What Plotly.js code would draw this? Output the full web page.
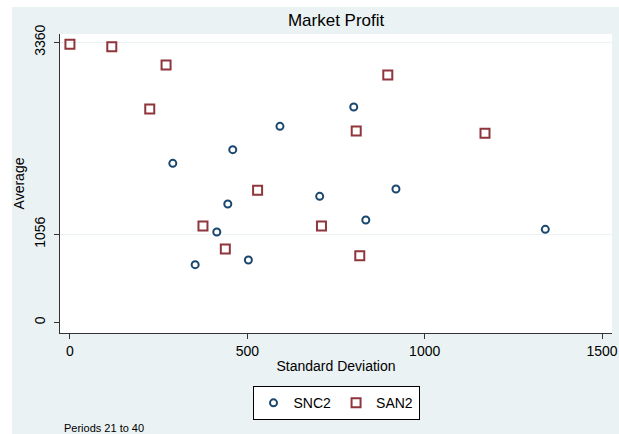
<!DOCTYPE html>
<html>
<head>
<meta charset="utf-8">
<script src="https://cdn.plot.ly/plotly-3.0.1.min.js"></script>
<style>html,body{margin:0;padding:0;background:#fff;}#chart{width:619px;height:434px;}</style>
</head>
<body>
<div id="chart"></div>
<script>
// SNC2 series (Standard Deviation, Average)
var snc2SD  = [800, 592, 459, 290, 704, 919, 445, 834, 414, 503, 353, 1340];
var snc2Avg = [2584, 2352, 2072, 1908, 1512, 1600, 1420, 1228, 1084, 748, 692, 1116];
// SAN2 series
var san2SD  = [0, 118, 271, 225, 896, 807, 1170, 529, 375, 709, 438, 817];
var san2Avg = [3336, 3307, 3088, 2560, 2968, 2296, 2268, 1584, 1156, 1156, 880, 799];

var xTicks = [0, 500, 1000, 1500];
var yTicks = [0, 1056, 3360];
var yGridTicks = [1056, 3360];

var font = "'Liberation Sans', Arial, sans-serif";
var bg = '#eaf2f3';

var traces = [
  {x: snc2SD, y: snc2Avg, name: 'SNC2', type: 'scatter', mode: 'markers',
   marker: {symbol: 'circle-open', size: 7, color: '#1a476f', line: {width: 2, color: '#1a476f'}}},
  {x: san2SD, y: san2Avg, name: 'SAN2', type: 'scatter', mode: 'markers',
   marker: {symbol: 'square-open', size: 9, color: '#90353b', line: {width: 2, color: '#90353b'}}}
];

var layout = {
  width: 619, height: 434,
  margin: {l: 60, r: 7, t: 34, b: 101},
  paper_bgcolor: bg,
  plot_bgcolor: '#ffffff',
  font: {family: font, color: '#000', size: 14},
  title: {text: 'Market Profit', font: {size: 17, family: font, color: '#000'},
          x: 0.543, xanchor: 'center', y: 0.954, yanchor: 'middle'},
  xaxis: {range: [-28, 1528], tickvals: xTicks, ticktext: xTicks.map(String),
          showgrid: false, zeroline: false, showline: true, linecolor: '#333', linewidth: 1,
          ticks: 'outside', ticklen: 5, tickcolor: '#333', tickfont: {size: 14},
          title: {text: 'Standard Deviation', font: {size: 14}, standoff: 3}},
  yaxis: {range: [-128, 3460], tickvals: yTicks, ticktext: yTicks.map(String),
          showgrid: false, zeroline: false, showline: true, linecolor: '#333', linewidth: 1,
          ticks: 'outside', ticklen: 5, tickcolor: '#333', tickangle: -90, tickfont: {size: 14},
          ticklabelstandoff: 3,
          title: {text: 'Average', font: {size: 14}, standoff: 4}},
  yaxis2: {range: [-128, 3460], overlaying: 'y', tickvals: yGridTicks, showgrid: true,
           gridcolor: bg, gridwidth: 1.5, showticklabels: false, zeroline: false, showline: false},
  showlegend: true,
  legend: {orientation: 'h', x: 0.5, xanchor: 'center', y: -0.178, yanchor: 'top',
           bgcolor: '#ffffff', bordercolor: '#000', borderwidth: 1, font: {size: 14},
           itemwidth: 30, tracegroupgap: 0},
  annotations: [
    {text: 'Periods 21 to 40', xref: 'paper', yref: 'paper', x: 0.004, y: -0.318,
     xanchor: 'left', yanchor: 'middle', showarrow: false, font: {size: 11}}
  ],
  shapes: [
    {type: 'rect', xref: 'paper', yref: 'paper', x0: -0.12, x1: -0.087, y0: -0.35, y1: 1.13,
     fillcolor: '#ffffff', line: {width: 0}},
    {type: 'rect', xref: 'paper', yref: 'paper', x0: -0.12, x1: 1.02, y0: 1.0903, y1: 1.13,
     fillcolor: '#ffffff', line: {width: 0}}
  ]
};

// empty trace so the gridline-only overlay axis is drawn
traces.push({x: [], y: [], yaxis: 'y2', type: 'scatter', mode: 'markers', showlegend: false, hoverinfo: 'skip'});

Plotly.newPlot('chart', traces, layout, {displayModeBar: false, staticPlot: true});
</script>
</body>
</html>
